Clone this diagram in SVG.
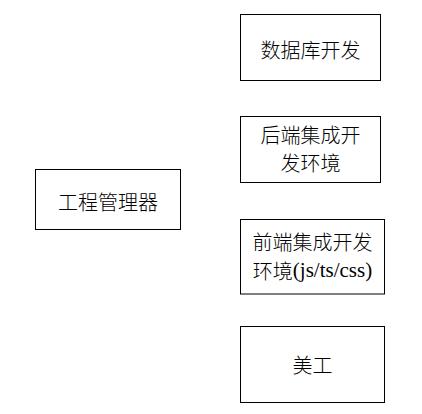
<svg xmlns="http://www.w3.org/2000/svg" width="422" height="414" viewBox="0 0 422 414">
<style>
.box{fill:#fff;stroke:#000;stroke-width:1}
.t{font-family:"Noto Sans CJK SC","Liberation Sans",sans-serif;font-size:20px;font-weight:300;fill:#000;text-anchor:middle;dominant-baseline:central}
.lat{font-family:"Liberation Serif","Noto Sans CJK SC",serif;font-size:21px}
</style>
<rect width="422" height="414" fill="#fff"/>
<g id="connectors"></g>
<g id="gongcheng">
<rect class="box" x="35.5" y="169.5" width="145" height="60"/>
<text class="t" x="108" y="201">工程管理器</text>
</g>
<g id="shujuku">
<rect class="box" x="240.5" y="14.5" width="140" height="66"/>
<text class="t" x="310.5" y="49">数据库开发</text>
</g>
<g id="houduan">
<rect class="box" x="240.5" y="116.5" width="140" height="66"/>
<text class="t" x="310.5" y="134">后端集成开</text>
<text class="t" x="310.5" y="162">发环境</text>
</g>
<g id="qianduan">
<rect class="box" x="240.5" y="219.5" width="144" height="74.5"/>
<text class="t" x="312.5" y="241">前端集成开发</text>
<text class="t" x="312.5" y="270">环境<tspan class="lat">(js/ts/css)</tspan></text>
</g>
<g id="meigong">
<rect class="box" x="240.5" y="326.5" width="144" height="76"/>
<text class="t" x="312.5" y="364">美工</text>
</g>
</svg>
